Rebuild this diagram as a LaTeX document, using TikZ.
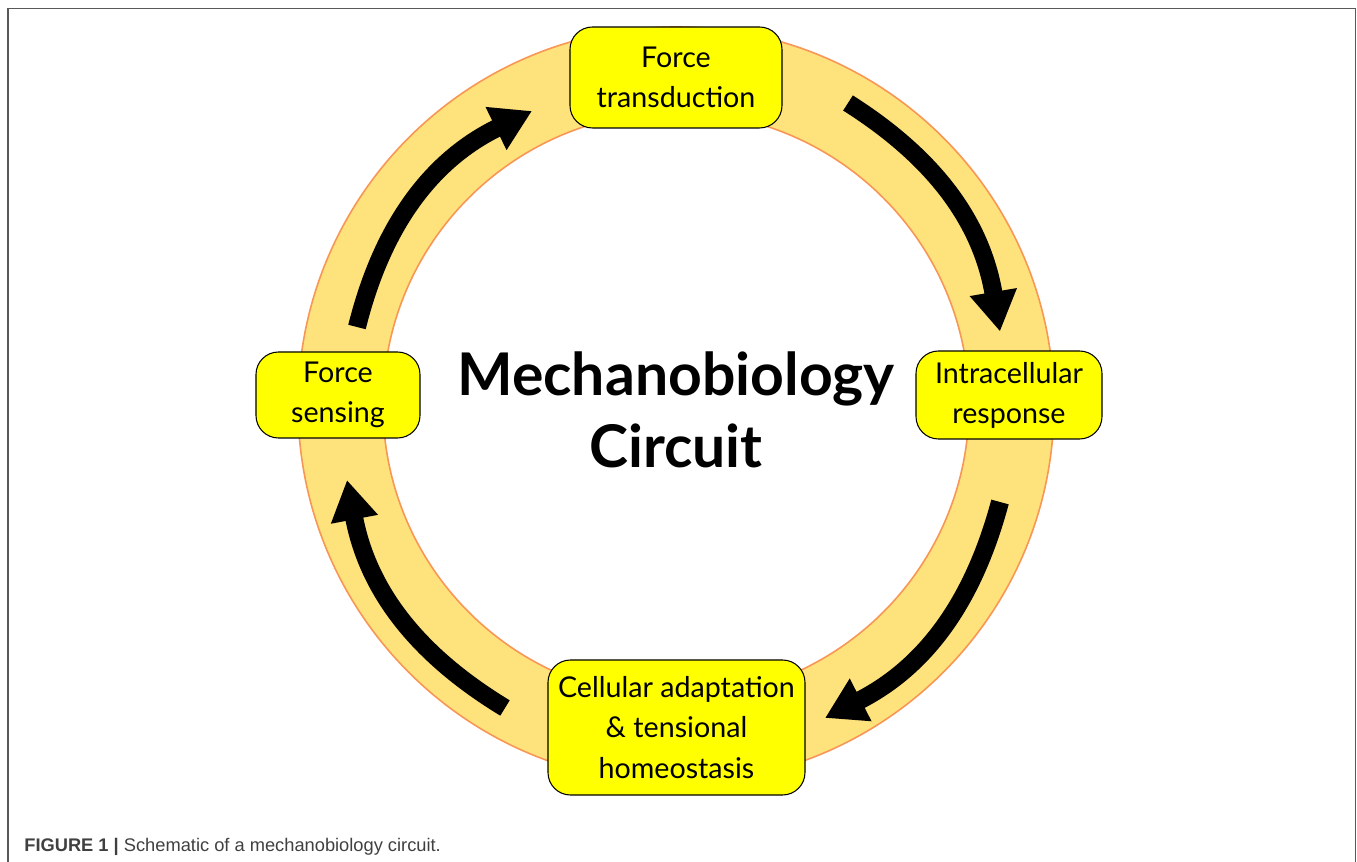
\documentclass[tikz,border=0pt]{standalone}
\usepackage{fontspec}
\setmainfont{Lato}
\newfontfamily\captionfont{Liberation Sans}
\usetikzlibrary{arrows.meta}

\definecolor{ringfill}{RGB}{254,226,124}
\definecolor{ringedge}{RGB}{248,150,85}
\definecolor{stagefill}{RGB}{255,255,0}

\begin{document}
\begin{tikzpicture}[
	stage/.style={draw=black, line width=0.6pt, fill=stagefill, rounded corners=0.45cm,
		align=center, inner sep=0pt, font=\fontsize{16.3}{22.8}\selectfont},
	cycle arrow/.style={line width=0.36cm, -{Triangle[width=0.9cm,length=0.8cm]}},
	]
	\useasboundingbox (-13.52,-9.14) rectangle (13.62,8.10);
	% frame
	\draw[black!65, line width=1pt] (-13.36,-9.14) -- (-13.36,7.93) -- (13.59,7.93) -- (13.59,-9.14);
	% ring
	\fill[ringfill, even odd rule] (0,0) circle (7.56) (0,0) circle (5.86);
	\draw[ringedge, line width=0.9pt] (0,0) circle (7.56) (0,0) circle (5.86);

	% stages
	\node[stage, minimum width=4.24cm, minimum height=2.02cm] (transd) at (0,6.55) {Force\\transduction};
	\node[stage, minimum width=3.72cm, minimum height=1.76cm] (resp) at (6.66,0.2) {Intracellular\\response};
	\node[stage, minimum width=5.14cm, minimum height=2.70cm] (adapt) at (0.01,-6.45) {Cellular adaptation\\\& tensional\\homeostasis};
	\node[stage, minimum width=3.28cm, minimum height=1.72cm] (sens) at (-6.76,0.2) {Force\\sensing};

	\node[font=\bfseries\fontsize{33.5}{41}\selectfont, align=center] (title) at (0,-0.1) {Mechanobiology\\Circuit};

	% arrow ends
	\coordinate (t1) at (3.44,6.04);
	\coordinate (h1) at (6.48,1.47);
	\coordinate (t2) at (6.48,-1.94);
	\coordinate (h2) at (2.98,-6.26);
	\coordinate (t3) at (-3.42,-6.06);
	\coordinate (h3) at (-6.58,-1.50);
	\coordinate (t4) at (-6.38,1.56);
	\coordinate (h4) at (-2.88,5.88);
	\draw[cycle arrow] (t1) to[bend left=24] (h1);
	\draw[cycle arrow] (t2) to[bend left=24] (h2);
	\draw[cycle arrow] (t3) to[bend left=24] (h3);
	\draw[cycle arrow] (t4) to[bend left=25] (h4);

	\node[anchor=base west, inner sep=0pt, text=black!75,
		font=\captionfont\fontsize{10.4}{12}\selectfont] (caption) at (-13.04,-8.92)
		{\textbf{FIGURE 1 |} Schematic of a mechanobiology circuit.};
\end{tikzpicture}
\end{document}
